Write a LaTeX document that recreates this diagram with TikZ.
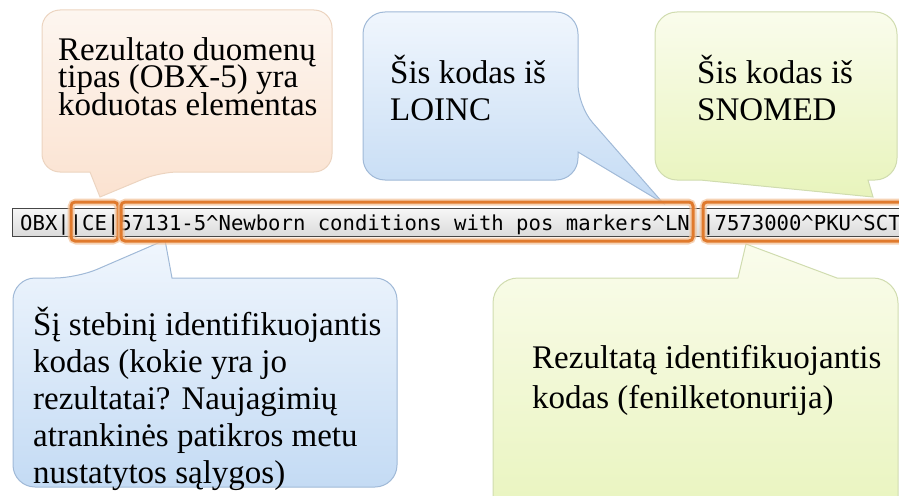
\documentclass[tikz,border=0pt]{standalone}
\usepackage{fontspec}
\setmainfont{Liberation Serif}
\newfontfamily\codefont{DejaVu Sans Mono}
\definecolor{peachtop}{RGB}{253,246,240}
\definecolor{peachbot}{RGB}{251,226,208}
\definecolor{peachline}{RGB}{236,212,192}
\definecolor{bluetop}{RGB}{240,246,253}
\definecolor{bluebot}{RGB}{196,219,244}
\definecolor{blueline}{RGB}{160,185,215}
\definecolor{greentop}{RGB}{250,252,236}
\definecolor{greenbot}{RGB}{232,244,188}
\definecolor{greenline}{RGB}{208,220,175}
\definecolor{hlorange}{RGB}{224,122,45}
\definecolor{hlglow}{RGB}{242,192,150}
\lineskiplimit=-100pt
\begin{document}
\begin{tikzpicture}[x=1pt, y=-1pt,
    bubble/.style={line width=1pt},
    peachbub/.style={bubble, draw=peachline, top color=peachtop, bottom color=peachbot},
    bluebub/.style={bubble, draw=blueline, top color=bluetop, bottom color=bluebot},
    greenbub/.style={bubble, draw=greenline, top color=greentop, bottom color=greenbot},
    bubtext/.style={anchor=base west, inner sep=0pt, align=left,
      font=\fontsize{33}{37}\selectfont},
    hlbox/.style={draw=hlorange, line width=3pt, rounded corners=4pt},
    hlglowbox/.style={draw=hlglow, line width=7pt, rounded corners=5pt, opacity=0.7}]
  \useasboundingbox (0,0) rectangle (899,495);

  % galai, i kuriuos rodo burbulai
  \coordinate (tipType) at (100,197);
  \coordinate (tipLoinc) at (663,203);
  \coordinate (tipSnomed) at (873,197);
  \coordinate (tipObs) at (165,240);
  \coordinate (tipValue) at (746,244);

  % --- virsutiniai burbulai ---
  \draw[peachbub] (190,10) [rounded corners=18pt] -- (332,10) -- (332,172)
    -- (160,172) [sharp corners] -- (tipType) -- (90,172) [rounded corners=18pt]
    -- (42,172) -- (42,10) -- cycle;
  \draw[bluebub] (470,12) [rounded corners=22pt] -- (578,12) -- (578,106)
    [sharp corners] -- (tipLoinc) -- (578,152) [rounded corners=22pt]
    -- (578,180) -- (363,180) -- (363,12) -- cycle;
  \draw[greenbub] (775,12) [rounded corners=22pt] -- (897,12) -- (897,180)
    [sharp corners] -- (868,180) -- (tipSnomed) -- (700,180) [rounded corners=22pt]
    -- (655,180) -- (655,12) -- cycle;

  % --- apatiniai burbulai ---
  \draw[bluebub] (300,278) [rounded corners=22pt] -- (397,278) -- (397,487)
    -- (13,487) -- (13,278) -- (77,278) [sharp corners] -- (tipObs) -- (172,278) -- cycle;
  \draw[greenbub] (600,278) -- (738,278) -- (tipValue) -- (837,278)
    [rounded corners=25pt] -- (898,278) -- (898,530) -- (493,530) -- (493,278) -- (600,278);

  % --- OBX eilute ---
  \draw[draw=gray!55!black, top color=gray!6, bottom color=gray!28] (12,208) rectangle (910,236);
  \node[anchor=base west, inner sep=0pt, font=\codefont\fontsize{20.6}{21}\selectfont] (obx) at (20,230)
    {OBX||CE|57131-5\textasciicircum Newborn conditions with pos markers\textasciicircum LN |7573000\textasciicircum PKU\textasciicircum SCT};

  % pazymeti laukai
  \foreach \a/\b in {71/118, 121/693, 703/915} {
    \draw[hlglowbox] (\a,202) rectangle (\b,241);
    \draw[hlbox] (\a,202) rectangle (\b,241);
  }

  % --- tekstai (taskas = paskutines eilutes bazine linija) ---
  \node[bubtext, font=\fontsize{33}{27.5}\selectfont] (typeText) at (58,115)
    {Rezultato duomenų\\tipas (OBX-5) yra\\koduotas elementas};
  \node[bubtext, font=\fontsize{33}{36}\selectfont] (loincText) at (390,120) {Šis kodas iš\\LOINC};
  \node[bubtext, font=\fontsize{33}{36}\selectfont] (snomedText) at (697,120) {Šis kodas iš\\SNOMED};
  \node[bubtext] (obsText) at (33,483)
    {Šį stebinį identifikuojantis\\kodas (kokie yra jo\\rezultatai? Naujagimių\\atrankinės patikros metu\\nustatytos sąlygos)};
  \node[bubtext, font=\fontsize{33}{40}\selectfont] (valueText) at (532,408)
    {Rezultatą identifikuojantis\\kodas (fenilketonurija)};
\end{tikzpicture}
\end{document}
